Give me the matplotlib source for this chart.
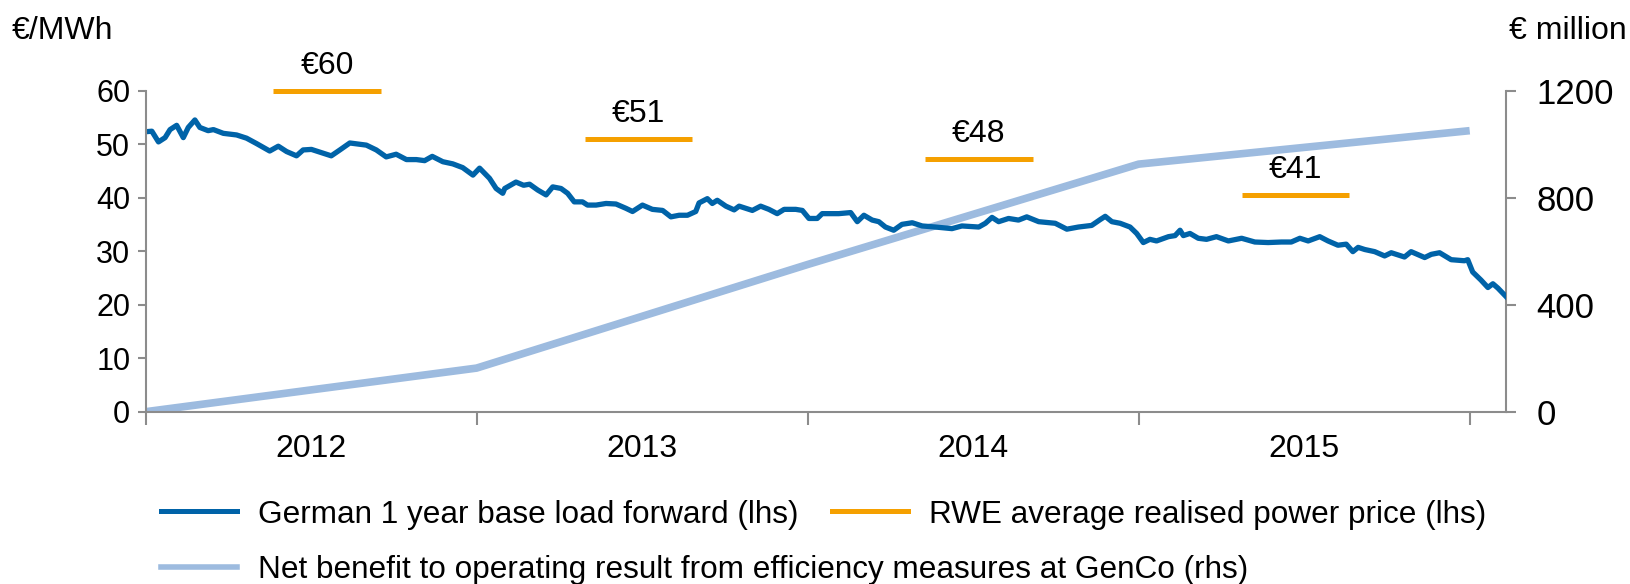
import matplotlib
matplotlib.use("Agg")
import matplotlib.pyplot as plt
from matplotlib.lines import Line2D

plt.rcParams['font.family'] = ['Liberation Sans', 'DejaVu Sans']

# ---- data ----
fwd_time = [2012.000, 2012.019, 2012.039, 2012.059, 2012.074, 2012.094, 2012.114, 2012.129,
            2012.149, 2012.164, 2012.189, 2012.205, 2012.235, 2012.275, 2012.305, 2012.335,
            2012.375, 2012.401, 2012.426, 2012.456, 2012.476, 2012.501, 2012.531, 2012.561,
            2012.587, 2012.617, 2012.642, 2012.667, 2012.697, 2012.727, 2012.757, 2012.788,
            2012.818, 2012.843, 2012.866, 2012.898, 2012.928, 2012.958, 2012.989, 2013.009,
            2013.039, 2013.059, 2013.079, 2013.085, 2013.119, 2013.142, 2013.160, 2013.185,
            2013.210, 2013.230, 2013.255, 2013.275, 2013.295, 2013.320, 2013.335, 2013.361,
            2013.391, 2013.421, 2013.451, 2013.471, 2013.501, 2013.531, 2013.562, 2013.587,
            2013.612, 2013.637, 2013.662, 2013.672, 2013.697, 2013.712, 2013.727, 2013.753,
            2013.778, 2013.793, 2013.813, 2013.833, 2013.858, 2013.883, 2013.908, 2013.929,
            2013.964, 2013.984, 2014.004, 2014.029, 2014.044, 2014.064, 2014.094, 2014.130,
            2014.150, 2014.170, 2014.195, 2014.215, 2014.235, 2014.260, 2014.285, 2014.316,
            2014.346, 2014.386, 2014.436, 2014.466, 2014.517, 2014.537, 2014.557, 2014.577,
            2014.607, 2014.637, 2014.662, 2014.698, 2014.748, 2014.783, 2014.818, 2014.858,
            2014.884, 2014.899, 2014.919, 2014.944, 2014.974, 2014.994, 2015.014, 2015.034,
            2015.054, 2015.090, 2015.110, 2015.125, 2015.135, 2015.155, 2015.180, 2015.205,
            2015.235, 2015.271, 2015.311, 2015.351, 2015.391, 2015.431, 2015.461, 2015.487,
            2015.512, 2015.547, 2015.572, 2015.602, 2015.627, 2015.647, 2015.663, 2015.683,
            2015.713, 2015.743, 2015.763, 2015.803, 2015.823, 2015.864, 2015.884, 2015.909,
            2015.944, 2015.984, 2015.994, 2016.009, 2016.034, 2016.055, 2016.070, 2016.085,
            2016.110]
fwd_price = [52.3, 52.4, 50.4, 51.2, 52.7, 53.5, 51.2, 53.1,
             54.5, 53.1, 52.5, 52.7, 52.0, 51.7, 51.1, 50.1,
             48.7, 49.6, 48.6, 47.8, 48.9, 49.0, 48.4, 47.8,
             48.9, 50.2, 50.0, 49.8, 48.9, 47.6, 48.1, 47.1,
             47.1, 46.9, 47.7, 46.7, 46.3, 45.6, 44.2, 45.5,
             43.6, 41.7, 40.8, 41.7, 42.9, 42.3, 42.5, 41.4,
             40.5, 42.0, 41.7, 40.8, 39.2, 39.2, 38.6, 38.6,
             38.9, 38.8, 38.0, 37.4, 38.6, 37.8, 37.6, 36.4,
             36.7, 36.7, 37.4, 39.0, 39.8, 38.9, 39.5, 38.4,
             37.7, 38.4, 38.0, 37.6, 38.4, 37.8, 37.0, 37.8,
             37.8, 37.6, 36.1, 36.1, 37.0, 37.0, 37.0, 37.2,
             35.5, 36.7, 35.8, 35.5, 34.5, 33.9, 35.0, 35.3,
             34.7, 34.5, 34.2, 34.7, 34.5, 35.2, 36.3, 35.5,
             36.1, 35.8, 36.4, 35.5, 35.2, 34.1, 34.5, 34.8,
             35.9, 36.5, 35.5, 35.2, 34.5, 33.3, 31.6, 32.2,
             31.9, 32.7, 32.9, 33.9, 32.9, 33.3, 32.4, 32.2,
             32.7, 31.9, 32.4, 31.7, 31.6, 31.7, 31.7, 32.4,
             31.9, 32.7, 31.9, 31.1, 31.3, 29.9, 30.7, 30.3,
             29.9, 29.1, 29.7, 28.9, 29.9, 28.8, 29.4, 29.7,
             28.4, 28.2, 28.4, 26.1, 24.6, 23.2, 23.9, 23.1,
             21.5]

rwe_labels = ["€60", "€51", "€48", "€41"]
rwe_price = [60.0, 51.0, 47.3, 40.5]
rwe_start = [2012.386, 2013.326, 2014.354, 2015.313]
rwe_end = [2012.712, 2013.652, 2014.680, 2015.636]

benefit_time = [2012.0, 2013.0, 2014.0, 2015.0, 2016.0]
benefit_value = [0, 163, 550, 925, 1050]

year_labels = ["2012", "2013", "2014", "2015"]
year_centers = [2012.5, 2013.5, 2014.5, 2015.5]
year_bounds = [2012, 2013, 2014, 2015, 2016]
left_ticks = [0, 10, 20, 30, 40, 50, 60]
right_ticks = [0, 400, 800, 1200]

# ---- style ----
c_dark = '#0063A8'
c_orange = '#F5A000'
c_light = '#9DBBDF'
c_axis = '#8C8C8C'

fig = plt.figure(figsize=(16.30, 5.84), dpi=100)
ax = fig.add_axes([0.0893, 0.295, 0.8347, 0.550])
ax2 = ax.twinx()
ax.set_zorder(ax2.get_zorder() + 1)
ax.patch.set_visible(False)

# light line on right axis
ax2.plot(benefit_time, benefit_value, color=c_light, lw=5.5, solid_capstyle='butt')
# dark forward line
ax.plot(fwd_time, fwd_price, color=c_dark, lw=3.8, solid_joinstyle='round')
# orange bars + labels
for lab, v, s, e in zip(rwe_labels, rwe_price, rwe_start, rwe_end):
    ax.plot([s, e], [v, v], color=c_orange, lw=3.6, solid_capstyle='butt', clip_on=False)
    ax.annotate(lab, xy=((s + e) / 2, v), xytext=(0, 18), textcoords='offset points',
                ha='center', va='center', fontsize=23, color='black', annotation_clip=False)

xmin, xmax = 2012.0, 2016.11
ax.set_xlim(xmin, xmax)
ax.set_ylim(0, 60)
ax2.set_ylim(0, 1200)

ax.set_yticks(left_ticks)
ax2.set_yticks(right_ticks)
ax.set_xticks(year_bounds)
ax.set_xticklabels([''] * len(year_bounds))
ax.set_xticks(year_centers, minor=True)
ax.set_xticklabels(year_labels, minor=True)

for a in (ax, ax2):
    a.spines['top'].set_visible(False)
    for sp in a.spines.values():
        sp.set_color(c_axis)
        sp.set_linewidth(1.5)
ax.spines['right'].set_visible(False)
ax2.spines['left'].set_visible(False)
ax2.spines['bottom'].set_visible(False)

ax.tick_params(axis='y', which='major', direction='out', length=6, width=1.5, color=c_axis,
               labelsize=22, pad=5)
ax.tick_params(axis='x', which='major', direction='out', length=9, width=1.5, color=c_axis)
ax.tick_params(axis='x', which='minor', length=0, labelsize=23, pad=16)
ax2.tick_params(axis='y', which='major', direction='out', length=7, width=1.5, color=c_axis,
                labelsize=25, pad=15)

fig.text(0.0074, 0.947, "€/MWh", fontsize=23, ha='left', va='center')
fig.text(0.998, 0.947, "€ million", fontsize=23, ha='right', va='center')

h_dark = Line2D([], [], color=c_dark, lw=3.6)
h_orange = Line2D([], [], color=c_orange, lw=3.6)
h_light = Line2D([], [], color=c_light, lw=4.0)
leg1 = fig.legend([h_dark, h_orange],
                  ["German 1 year base load forward (lhs)", "RWE average realised power price (lhs)"],
                  loc='center left', bbox_to_anchor=(0.099, 0.119), ncol=2, frameon=False,
                  fontsize=22.7, handlelength=2.4, handletextpad=0.66, columnspacing=1.07,
                  borderpad=0, borderaxespad=0)
leg2 = fig.legend([h_light],
                  ["Net benefit to operating result from efficiency measures at GenCo (rhs)"],
                  loc='center left', bbox_to_anchor=(0.099, 0.024), frameon=False,
                  fontsize=22.7, handlelength=2.4, handletextpad=0.66,
                  borderpad=0, borderaxespad=0)

fig.savefig("out.png", dpi=100)
